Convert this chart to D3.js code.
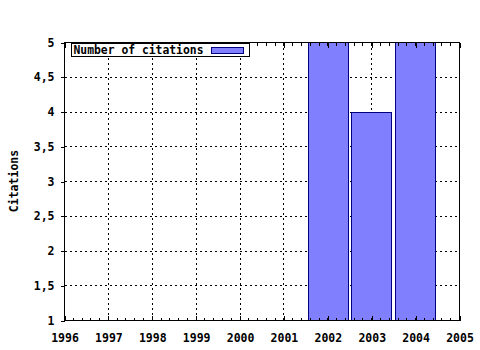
<!DOCTYPE html>
<html>
<head>
<meta charset="utf-8">
<script src="https://cdn.jsdelivr.net/npm/d3@7"></script>
<style>
  body { margin: 0; background: #fff; }
  text { font-family: "DejaVu Sans Mono", monospace; font-weight: bold; font-size: 11.5px; fill: #000; }
</style>
</head>
<body>
<div id="chart"></div>
<script>
const years = [2002, 2003, 2004];
const citations = [5, 4, 5];
const xTicks = [1996, 1997, 1998, 1999, 2000, 2001, 2002, 2003, 2004, 2005];
const yTicks = [1, 1.5, 2, 2.5, 3, 3.5, 4, 4.5, 5];
const seriesName = 'Number of citations';
const yTitle = 'Citations';

const width = 480, height = 350;
const margin = { top: 42, right: 21, bottom: 30, left: 64 };
const adjWidth = width - margin.left - margin.right;
const adjHeight = height - margin.top - margin.bottom;

const svg = d3.select('#chart').append('svg')
  .attr('width', width)
  .attr('height', height);

const g = svg.append('g')
  .attr('transform', 'translate(' + (margin.left + 0.5) + ',' + (margin.top + 0.5) + ')')
  .attr('shape-rendering', 'crispEdges');

const x = d3.scaleLinear().domain([1996, 2005]).range([0, adjWidth]);
const y = d3.scaleLinear().domain([1, 5]).range([adjHeight, 0]);
const yearW = x(1997) - x(1996);
const minorTicks = d3.range(1996, 2005.001, 0.2);
const fmt = d => String(d).replace('.', ',');

// grid
g.append('g').selectAll('line.vg')
  .data(xTicks.slice(1, -1))
  .enter().append('line')
  .attr('x1', d => x(d)).attr('x2', d => x(d))
  .attr('y1', 0).attr('y2', adjHeight)
  .attr('stroke', '#000').attr('stroke-dasharray', '2,3');

g.append('g').selectAll('line.hg')
  .data(yTicks.slice(1, -1))
  .enter().append('line')
  .attr('x1', 0).attr('x2', adjWidth)
  .attr('y1', d => y(d)).attr('y2', d => y(d))
  .attr('stroke', '#000').attr('stroke-dasharray', '2,3');

// bars
g.selectAll('rect.bar')
  .data(years)
  .enter().append('rect')
  .attr('class', 'bar')
  .attr('x', d => Math.round(x(d) - yearW * 0.45))
  .attr('width', Math.round(yearW * 0.9))
  .attr('y', (d, i) => y(citations[i]))
  .attr('height', (d, i) => adjHeight - y(citations[i]))
  .attr('fill', '#8080ff')
  .attr('stroke', '#000080');

// frame
g.append('rect')
  .attr('width', adjWidth).attr('height', adjHeight)
  .attr('fill', 'none').attr('stroke', '#000');

// minor ticks on top and bottom
g.append('g').selectAll('line')
  .data(minorTicks)
  .enter().append('line')
  .attr('x1', d => x(d)).attr('x2', d => x(d))
  .attr('y1', adjHeight).attr('y2', adjHeight - 3)
  .attr('stroke', '#000');
g.append('g').selectAll('line')
  .data(minorTicks)
  .enter().append('line')
  .attr('x1', d => x(d)).attr('x2', d => x(d))
  .attr('y1', 0).attr('y2', 3)
  .attr('stroke', '#000');

// x axis
const xAxis = g.append('g')
  .attr('transform', 'translate(0,' + adjHeight + ')')
  .call(d3.axisBottom(x).tickValues(xTicks).tickFormat(d3.format('d')).tickSizeInner(-5).tickSizeOuter(0).tickPadding(13));
xAxis.select('.domain').remove();
xAxis.selectAll('text').attr('font-family', null).attr('font-size', null);

const xTop = g.append('g')
  .call(d3.axisTop(x).tickValues(xTicks).tickFormat('').tickSizeInner(-5).tickSizeOuter(0));
xTop.select('.domain').remove();

// y axis
const yAxis = g.append('g')
  .call(d3.axisLeft(y).tickValues(yTicks).tickFormat(fmt).tickSizeInner(4).tickSizeOuter(0).tickPadding(6));
yAxis.select('.domain').remove();
yAxis.selectAll('text').attr('font-family', null).attr('font-size', null);

svg.append('text')
  .attr('transform', 'translate(18,' + (margin.top + adjHeight / 2) + ') rotate(-90)')
  .attr('text-anchor', 'middle')
  .text(yTitle);

// legend
const legend = svg.append('g')
  .attr('transform', 'translate(71.5,43.5)')
  .attr('shape-rendering', 'crispEdges');
legend.append('rect')
  .attr('width', 178).attr('height', 13)
  .attr('fill', '#fff').attr('stroke', '#000');
legend.append('text')
  .attr('x', 2).attr('y', 10.5)
  .attr('textLength', 130)
  .attr('lengthAdjust', 'spacingAndGlyphs')
  .text(seriesName);
legend.append('rect')
  .attr('x', 140).attr('y', 3.5)
  .attr('width', 32).attr('height', 6)
  .attr('fill', '#8080ff').attr('stroke', '#000080');
</script>
</body>
</html>
